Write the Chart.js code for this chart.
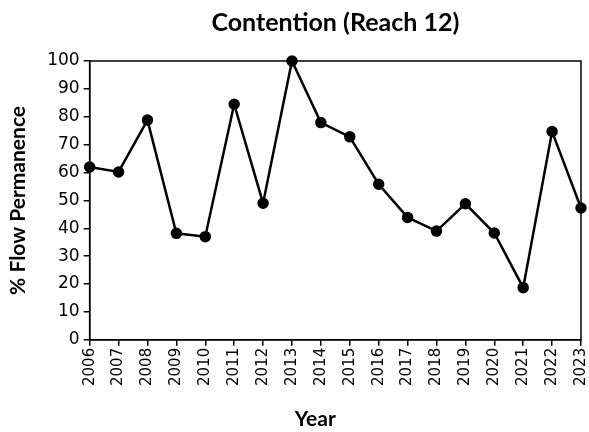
<!DOCTYPE html>
<html>
<head>
<meta charset="utf-8">
<script src="https://cdn.jsdelivr.net/npm/chart.js@4"></script>
<style>
  html, body { margin: 0; padding: 0; background: #fff; }
  #wrap { width: 589px; height: 432px; }
</style>
</head>
<body>
<div id="wrap"><canvas id="myChart" width="589" height="432"></canvas></div>
<script>
var years = ['2006', '2007', '2008', '2009', '2010', '2011', '2012', '2013', '2014',
             '2015', '2016', '2017', '2018', '2019', '2020', '2021', '2022', '2023'];
var flowPermanence = [62, 60.2, 78.8, 38.2, 37, 84.5, 49, 100, 77.9,
                      72.8, 55.8, 43.9, 39, 48.8, 38.3, 18.7, 74.7, 47.3];
var yTicks = [0, 10, 20, 30, 40, 50, 60, 70, 80, 90, 100];
var xTitle = 'Year';

var TITLE_FONT = 'Lato, "Open Sans", sans-serif';
var TICK_FONT = '"DejaVu Sans", sans-serif';

// full box around the plot area, plus the x axis title (sits a bit left of centre)
var boxPlugin = {
    id: 'box',
    afterDraw: function (chart) {
        var a = chart.chartArea, c = chart.ctx;
        c.save();
        c.strokeStyle = '#000';
        c.lineWidth = 1.5;
        c.strokeRect(a.left, a.top, a.right - a.left, a.bottom - a.top);
        c.fillStyle = '#000';
        c.font = 'bold 21px ' + TITLE_FONT;
        c.textAlign = 'center';
        c.textBaseline = 'middle';
        c.fillText(xTitle, (a.left + a.right) / 2 - 20, chart.height - 13);
        c.restore();
    }
};

var ctx = document.getElementById('myChart').getContext('2d');
var myLineChart = new Chart(ctx, {
    type: 'line',
    data: {
        labels: years,
        datasets: [{
            data: flowPermanence,
            borderColor: '#000',
            backgroundColor: '#000',
            borderWidth: 2.5,
            pointRadius: 4.5,
            pointBackgroundColor: '#000',
            pointBorderColor: '#000',
            tension: 0,
            clip: false
        }]
    },
    options: {
        responsive: false,
        animation: false,
        layout: { padding: { left: 6, right: 0, top: 0, bottom: 44 } },
        plugins: {
            legend: { display: false },
            tooltip: { enabled: false },
            title: {
                display: true,
                fullSize: false,
                text: 'Contention (Reach 12)',
                color: '#000',
                font: { family: TITLE_FONT, size: 25, weight: 'bold' },
                padding: { top: 8, bottom: 23 }
            }
        },
        scales: {
            x: {
                offset: false,
                afterFit: function (scale) {
                    // rotated labels only need half a line of room at the ends
                    scale.paddingRight = 8;
                    scale.paddingLeft = 8;
                },
                grid: { display: true, drawOnChartArea: false, drawTicks: true, tickLength: 6, color: '#000', lineWidth: 1.5 },
                border: { display: true, color: '#000', width: 1.5 },
                ticks: {
                    color: '#000',
                    font: { family: TICK_FONT, size: 15 },
                    maxRotation: 90, minRotation: 90,
                    autoSkip: false,
                    padding: 2
                }
            },
            y: {
                min: 0,
                max: 100,
                afterBuildTicks: function (axis) {
                    axis.ticks = yTicks.map(function (v) { return { value: v }; });
                },
                grid: { display: true, drawOnChartArea: false, drawTicks: true, tickLength: 6, color: '#000', lineWidth: 1.5 },
                border: { display: true, color: '#000', width: 1.5 },
                ticks: {
                    color: '#000',
                    font: { family: TICK_FONT, size: 17 },
                    padding: 4
                },
                title: {
                    display: true,
                    text: '% Flow Permanence',
                    color: '#000',
                    font: { family: TITLE_FONT, size: 21, weight: 'bold' },
                    padding: { top: 0, bottom: 12 }
                }
            }
        }
    },
    plugins: [boxPlugin]
});
</script>
</body>
</html>
